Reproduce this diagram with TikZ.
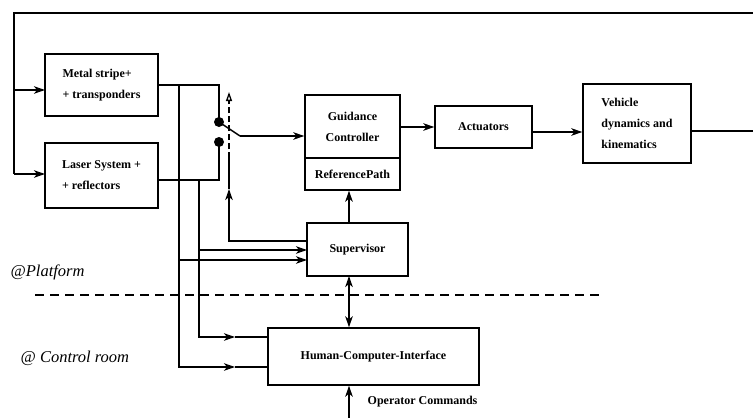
\documentclass[tikz,border=0pt]{standalone}
\usepackage{fontspec}
\setmainfont{Liberation Serif}
\usetikzlibrary{arrows.meta}
\begin{document}
\begin{tikzpicture}[x=1pt,y=-1pt,
  line width=1.4pt,
  arr/.style={-{Stealth[length=11pt,width=7.5pt,inset=3pt]}},
  dblarr/.style={{Stealth[length=11pt,width=7.5pt,inset=3pt]}-{Stealth[length=11pt,width=7.5pt,inset=3pt]}},
  blk/.style={draw,inner sep=0pt,font=\fontsize{12}{21}\selectfont\bfseries},
  lbl/.style={inner sep=0pt,font=\fontsize{12}{16}\selectfont\bfseries},
  zone/.style={inner sep=0pt,font=\fontsize{16.5}{20}\selectfont\itshape},
  contact/.style={circle,fill,inner sep=0pt,minimum size=10pt}]
\useasboundingbox (0,0) rectangle (753,418);

% blocks
\node[blk,minimum width=113pt,minimum height=62pt,align=left] (metal) at (101.5,85) {Metal stripe+\\+ transponders};
\node[blk,minimum width=113pt,minimum height=65pt,align=left] (laser) at (101.5,175.5) {Laser System +\\+ reflectors};
\node[blk,minimum width=95pt,minimum height=63pt,align=center] (guid) at (352.5,126.5) {Guidance\\Controller};
\node[blk,minimum width=95pt,minimum height=32pt] (ref) at (352.5,174) {ReferencePath};
\node[blk,minimum width=97pt,minimum height=42pt] (act) at (483.5,127) {Actuators};
\node[blk,minimum width=108pt,minimum height=79pt,align=left] (veh) at (637,123.5) {Vehicle\\dynamics and\\kinematics};
\node[blk,minimum width=101pt,minimum height=53pt] (sup) at (357.5,249.5) {Supervisor};
\node[blk,minimum width=211pt,minimum height=57pt] (hci) at (373.5,356.5) {Human-Computer-Interface};

% zone labels and divider
\node[zone,anchor=west] (plat) at (10,272) {@Platform};
\node[zone,anchor=west] (ctrl) at (20,358) {@ Control room};
\coordinate (dvl) at (35,295);
\coordinate (dvr) at (602,295);
\draw[line width=1.1pt,dash pattern=on 9pt off 6pt] (dvl) -- (dvr);

% feedback from vehicle to the sensors
\coordinate (tl) at (14,13);
\coordinate (tr) at (753,13);
\coordinate (vout) at (753,131);
\coordinate (mIn) at (45,90);
\coordinate (lIn) at (45,174);
\draw (vout -| veh.east) -- (vout);
\draw (tr) -- (tl) -- (tl |- lIn);
\draw[arr] (tl |- mIn) -- (mIn);
\draw[arr] (tl |- lIn) -- (lIn);

% sensor outputs and the selector switch
\coordinate (mOut) at (158,85);
\coordinate (lOut) at (158,180);
\node[contact] (sw1) at (219,122) {};
\node[contact] (sw2) at (219,142) {};
\coordinate (blade) at (240,136);
\draw (mOut) -- (mOut -| sw1) -- (sw1.center);
\draw (lOut) -- (lOut -| sw2) -- (sw2.center);
\draw (sw1.center) -- (blade);
\draw[arr] (blade) -- (blade -| guid.west);

% switch command from the supervisor
\coordinate (sl) at (307,241);
\coordinate (kUp) at (229,189);
\coordinate (kMid) at (229,158);
\coordinate (kTop) at (229,92);
\draw[arr] (sl) -| (kUp);
\draw (kUp) -- (kMid);
\draw[line width=1.3pt,dash pattern=on 6pt off 3pt,-{Triangle[open,length=9pt,width=6pt]}] (kMid) -- (kTop);

% sensor buses
\coordinate (b1) at (179,85);
\coordinate (b2) at (199,180);
\coordinate (s1) at (307,250);
\coordinate (s2) at (307,260);
\coordinate (h1) at (268,337);
\coordinate (h2) at (268,367);
\coordinate (h1m) at (235,337);
\coordinate (h2m) at (235,367);
\draw[arr] (b2) |- (s1);
\draw[arr] (b1) |- (s2);
\draw[arr] (b2) |- (h1m);
\draw (h1m) -- (h1);
\draw[arr] (b1) |- (h2m);
\draw (h2m) -- (h2);

% main chain
\draw[arr] (guid.east |- act) -- (act.west);
\draw[arr] (act.east |- 0,132) -- (veh.west |- 0,132);

% supervisor links
\coordinate (supTop) at (349,223);
\coordinate (supBot) at (349,276);
\coordinate (op) at (349,418);
\draw[arr] (supTop) -- (supTop |- ref.south);
\draw[dblarr] (supBot) -- (supBot |- hci.north);
\draw[arr] (op) -- (op |- hci.south);
\node[lbl,anchor=west] (opl) at (367,402) {Operator Commands};
\end{tikzpicture}
\end{document}
